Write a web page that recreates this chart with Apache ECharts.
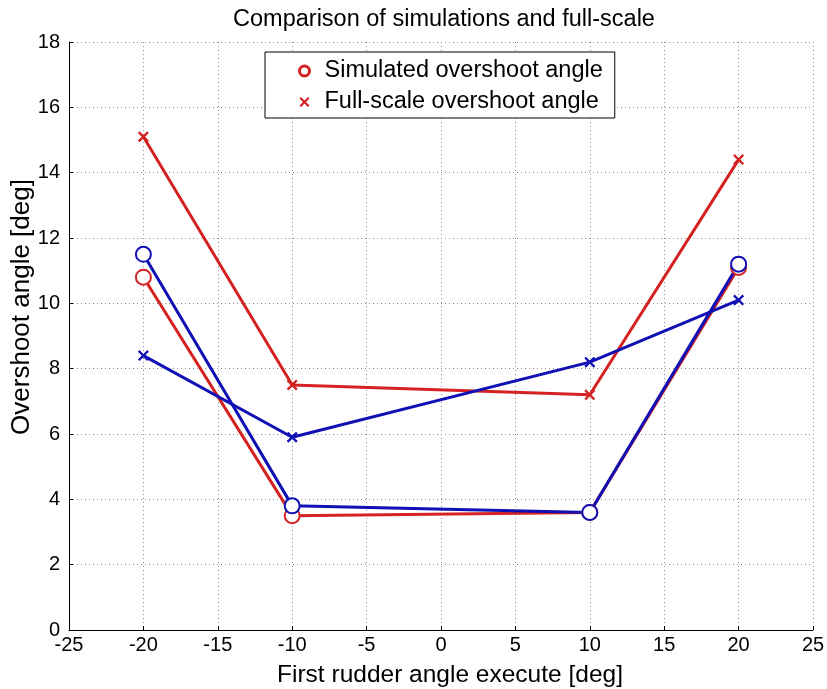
<!DOCTYPE html>
<html>
<head>
<meta charset="utf-8">
<script src="https://cdn.jsdelivr.net/npm/echarts@6/dist/echarts.min.js"></script>
<style>
  html, body { margin: 0; padding: 0; background: #fff; }
  #main { width: 827px; height: 689px; }
</style>
</head>
<body>
<div id="main"></div>
<script>
var rudderAngles = [-20, -10, 10, 20];
var redSimulated = [10.8, 3.5, 3.6, 11.1];
var redFullScale = [15.1, 7.5, 7.2, 14.4];
var blueSimulated = [11.5, 3.8, 3.6, 11.2];
var blueFullScale = [8.4, 5.9, 8.2, 10.1];

var red = '#d42222';
var blue = '#1010b4';
var font = 'Arial, "Liberation Sans", sans-serif';
var crossPath = 'path://M0,15L15,0L50,35L85,0L100,15L65,50L100,85L85,100L50,65L15,100L0,85L35,50Z';
var gridDots = { type: [1, 3], color: '#8f8f8f', width: 1 };

function pairs(ys) {
    return rudderAngles.map(function (x, i) { return [x, ys[i]]; });
}

function circleSeries(name, color, ys) {
    return {
        name: name,
        type: 'line',
        data: pairs(ys),
        symbol: 'emptyCircle',
        symbolSize: 15,
        lineStyle: { color: color, width: 3 },
        itemStyle: { color: color, borderColor: color, borderWidth: 2.8 },
        animation: false
    };
}

function crossSeries(name, color, ys) {
    return {
        name: name,
        type: 'line',
        data: pairs(ys),
        symbol: crossPath,
        symbolSize: 11,
        lineStyle: { color: color, width: 3 },
        itemStyle: { color: color },
        animation: false
    };
}

var myChart = echarts.init(document.getElementById('main'));

var option = {
    backgroundColor: '#fff',
    textStyle: { fontFamily: font },
    title: {
        text: 'Comparison of simulations and full-scale',
        left: 439,
        textAlign: 'center',
        top: 3,
        textStyle: { fontFamily: font, fontSize: 23.5, fontWeight: 'normal', color: '#000' }
    },
    legend: {
        left: 265,
        top: 52,
        orient: 'vertical',
        backgroundColor: '#fff',
        borderColor: '#000',
        borderWidth: 1,
        borderRadius: 0,
        padding: [6, 12, 3, 33],
        itemGap: 5,
        itemWidth: 10,
        itemHeight: 10,
        textStyle: { fontFamily: font, fontSize: 23.5, color: '#000', lineHeight: 26, padding: [0, 0, 0, 10] },
        data: [
            { name: 'Simulated overshoot angle', icon: 'circle',
              itemStyle: { color: '#fff', borderColor: red, borderWidth: 3 } },
            { name: 'Full-scale overshoot angle', icon: crossPath,
              itemStyle: { color: red } }
        ]
    },
    grid: { left: 69, right: 14, top: 42, bottom: 59, outerBoundsMode: 'none' },
    xAxis: {
        type: 'value',
        min: -25,
        max: 25,
        interval: 5,
        name: 'First rudder angle execute [deg]',
        nameLocation: 'middle',
        nameGap: 33,
        nameMoveOverlap: false,
        nameTextStyle: { fontFamily: font, fontSize: 24.5, color: '#000', padding: [0, 0, 0, 18] },
        axisLine: { onZero: false, lineStyle: { color: '#000', width: 1 } },
        axisTick: { inside: true, length: 4, lineStyle: { color: '#000' } },
        axisLabel: { fontFamily: font, fontSize: 20, color: '#000', margin: 5 },
        splitLine: { show: true, lineStyle: gridDots }
    },
    yAxis: {
        type: 'value',
        min: 0,
        max: 18,
        interval: 2,
        name: 'Overshoot angle [deg]',
        nameLocation: 'middle',
        nameGap: 34,
        nameMoveOverlap: false,
        nameTextStyle: { fontFamily: font, fontSize: 26, color: '#000', padding: [0, 0, 0, 58] },
        axisLine: { show: true, onZero: false, lineStyle: { color: '#000', width: 1 } },
        axisTick: { show: true, inside: true, length: 4, lineStyle: { color: '#000' } },
        axisLabel: { fontFamily: font, fontSize: 20, color: '#000', margin: 9 },
        splitLine: { show: true, lineStyle: gridDots }
    },
    series: [
        circleSeries('Simulated overshoot angle', red, redSimulated),
        crossSeries('Full-scale overshoot angle', red, redFullScale),
        circleSeries('Simulated overshoot angle (blue)', blue, blueSimulated),
        crossSeries('Full-scale overshoot angle (blue)', blue, blueFullScale)
    ]
};

myChart.setOption(option);
window.onresize = function () {
    myChart.resize();
};
</script>
</body>
</html>
